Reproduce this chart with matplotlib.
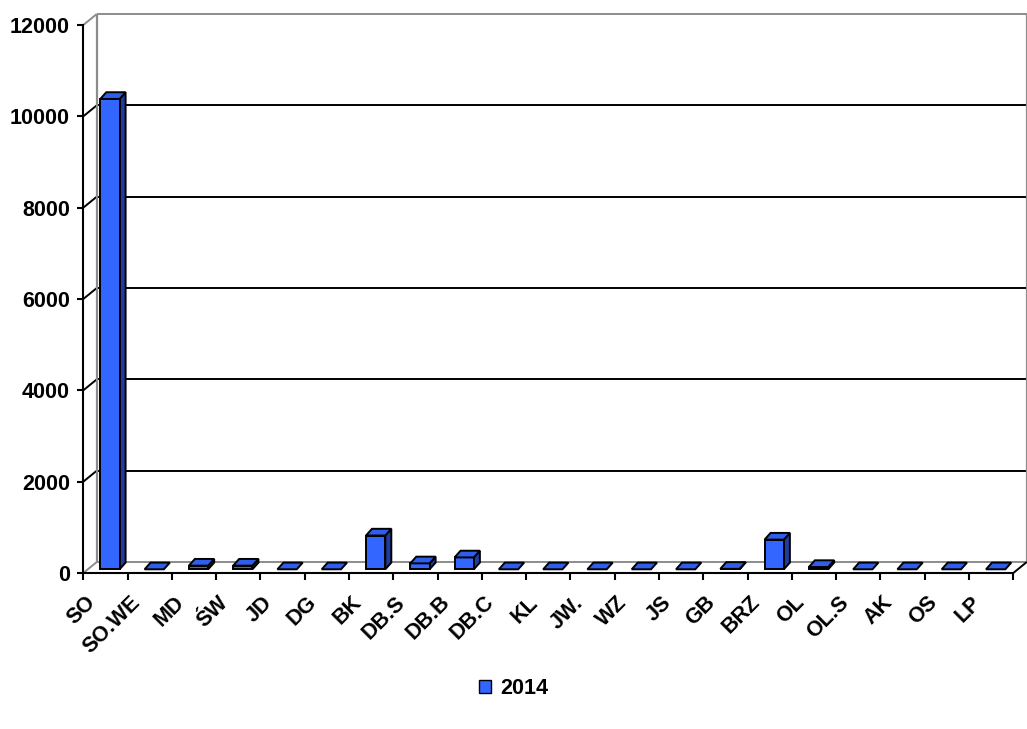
import matplotlib
matplotlib.use("Agg")
import matplotlib.pyplot as plt
from matplotlib.patches import Polygon, Patch
from matplotlib.transforms import ScaledTranslation

# ---- data -------------------------------------------------------------
categories = ["SO", "SO.WE", "MD", "ŚW", "JD", "DG", "BK", "DB.S", "DB.B", "DB.C",
              "KL", "JW.", "WZ", "JS", "GB", "BRZ", "OL", "OL.S", "AK", "OS", "LP"]
values_2014 = [10300, 0, 80, 80, 0, 0, 740, 130, 260, 0,
               0, 0, 0, 0, 10, 650, 50, 0, 0, 0, 0]
series_name = "2014"
y_ticks = [0, 2000, 4000, 6000, 8000, 10000, 12000]

# ---- style ------------------------------------------------------------
FRONT = "#3366FF"
TOP = "#2F5EEB"
SIDE = "#1F3C9E"
GREY = "#8C8C8C"
FS = 15.5
plt.rcParams["font.family"] = ["Liberation Sans", "DejaVu Sans"]
plt.rcParams["font.weight"] = "bold"

W, H, DPI = 1027, 729, 100
fig = plt.figure(figsize=(W / DPI, H / DPI), dpi=DPI)
fig.patch.set_facecolor("white")

# front plane of the 3-D box
ax_l, ax_r, ax_b, ax_t = 83.3, 1013.3, 573, 25
ax = fig.add_axes([ax_l / W, (H - ax_b) / H, (ax_r - ax_l) / W, (ax_b - ax_t) / H])
n = len(categories)
ax.set_xlim(-0.5, n - 0.5)
ax.set_ylim(y_ticks[0], y_ticks[-1])
ax.set_facecolor("none")

# pixel -> data scale factors for the oblique depth direction
sx = (n) / (ax_r - ax_l)
sy = (y_ticks[-1] - y_ticks[0]) / (ax_b - ax_t)


def P(x, y, dpx, dpy):
    return (x + dpx * sx, y + dpy * sy)


DEPTH = (13.5, 11.0)   # back wall offset in pixels
BAR_F = (4.5, 3.7)     # bar front face offset
BAR_B = (10.5, 10.4)   # bar back face offset
BAR_W = 0.436

x0, x1 = -0.5, n - 0.5
ymax = y_ticks[-1]

# back wall frame and grid
kw = dict(clip_on=False, solid_capstyle="butt")
for yv in y_ticks:
    col = GREY if yv in (y_ticks[0], y_ticks[-1]) else "black"
    a = P(x0, yv, 0, 0)
    b = P(x0, yv, *DEPTH)
    c = P(x1, yv, *DEPTH)
    ax.plot([a[0], b[0]], [a[1], b[1]], color=col, lw=1.4, zorder=1, **kw)
    ax.plot([b[0], c[0]], [b[1], c[1]], color=col, lw=1.4, zorder=1, **kw)
for xv in (x0, x1):
    a = P(xv, 0, *DEPTH)
    b = P(xv, ymax, *DEPTH)
    ax.plot([a[0], b[0]], [a[1], b[1]], color=GREY, lw=1.6, zorder=1, **kw)
# right floor edge
a = P(x1, 0, 0, 0)
b = P(x1, 0, *DEPTH)
ax.plot([a[0], b[0]], [a[1], b[1]], color="black", lw=1.4, zorder=2, **kw)

# bars
for i, v in enumerate(values_2014):
    l, r = i - BAR_W / 2, i + BAR_W / 2
    top = [P(l, v, *BAR_F), P(r, v, *BAR_F), P(r, v, *BAR_B), P(l, v, *BAR_B)]
    if v > 0:
        front = [P(l, 0, *BAR_F), P(r, 0, *BAR_F), P(r, v, *BAR_F), P(l, v, *BAR_F)]
        side = [P(r, 0, *BAR_F), P(r, 0, *BAR_B), P(r, v, *BAR_B), P(r, v, *BAR_F)]
        ax.add_patch(Polygon(side, closed=True, facecolor=SIDE, edgecolor="black",
                             lw=1.4, joinstyle="miter", zorder=3, clip_on=False))
        ax.add_patch(Polygon(front, closed=True, facecolor=FRONT, edgecolor="black",
                             lw=1.4, joinstyle="miter", zorder=3, clip_on=False))
    ax.add_patch(Polygon(top, closed=True, facecolor=TOP, edgecolor="black",
                         lw=1.4, joinstyle="miter", zorder=3, clip_on=False))

# axes: front y-axis and floor edge
for s in ("top", "right"):
    ax.spines[s].set_visible(False)
for s in ("left", "bottom"):
    ax.spines[s].set_color("black")
    ax.spines[s].set_linewidth(1.5)

ax.set_yticks(y_ticks)
ax.set_yticklabels([str(t) for t in y_ticks], fontsize=FS, fontweight="bold")
ax.tick_params(axis="y", length=4.5, width=1.5, pad=5)

ax.set_xticks(range(n))
ax.set_xticklabels(categories, fontsize=FS, fontweight="bold", rotation=45,
                   rotation_mode="anchor", ha="right", va="center")
ax.tick_params(axis="x", which="major", length=0, pad=19)
ax.set_xticks([k - 0.5 for k in range(n + 1)], minor=True)
ax.tick_params(axis="x", which="minor", length=5, width=1.5)
shift = ScaledTranslation(-13 / DPI, 0, fig.dpi_scale_trans)
for lab in ax.get_xticklabels():
    lab.set_transform(lab.get_transform() + shift)

# legend
fig.legend(handles=[Patch(facecolor=FRONT, edgecolor="black", lw=1.0)],
           labels=[series_name], loc="center", bbox_to_anchor=(0.5, (H - 689) / H),
           frameon=False, prop={"weight": "bold", "size": FS},
           handlelength=0.55, handleheight=0.55, handletextpad=0.45)

fig.savefig("out.png", dpi=DPI, facecolor="white")
